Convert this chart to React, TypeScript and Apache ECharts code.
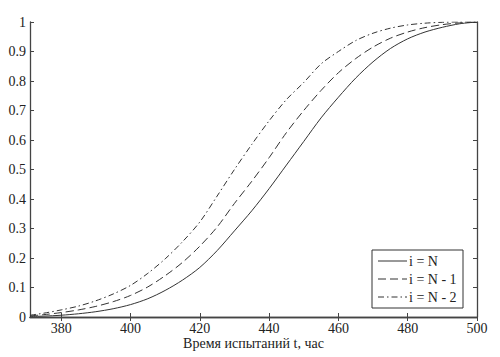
import React, { useEffect, useRef } from "react";
import * as echarts from "echarts";

const tValues = [371, 375, 380, 385, 390, 395, 400, 405, 410, 415, 420, 425, 430, 435, 440, 445, 450, 455, 460, 465, 470, 475, 480, 485, 490, 495, 500];
const seriesN = [0.002, 0.003, 0.006, 0.011, 0.018, 0.028, 0.042, 0.062, 0.09, 0.125, 0.168, 0.225, 0.292, 0.36, 0.435, 0.515, 0.595, 0.675, 0.745, 0.81, 0.865, 0.91, 0.943, 0.966, 0.982, 0.994, 1.0];
const seriesN1 = [0.004, 0.008, 0.015, 0.024, 0.036, 0.052, 0.073, 0.102, 0.14, 0.185, 0.24, 0.305, 0.385, 0.46, 0.54, 0.625, 0.7, 0.768, 0.828, 0.876, 0.915, 0.945, 0.966, 0.981, 0.991, 0.997, 1.0];
const seriesN2 = [0.006, 0.013, 0.024, 0.037, 0.055, 0.078, 0.107, 0.148, 0.197, 0.255, 0.322, 0.41, 0.5, 0.585, 0.665, 0.737, 0.795, 0.858, 0.9, 0.937, 0.962, 0.979, 0.99, 0.996, 0.999, 1.0, 1.0];
const seriesNames = ["i = N", "i = N - 1", "i = N - 2"];
const xTicks = [380, 400, 420, 440, 460, 480, 500];
const xTitle = "Время испытаний t, час";

const FONT = "'Liberation Serif', 'Times New Roman', serif";
const DASHES: (number[] | null)[] = [null, [8, 4], [6, 3, 1.5, 3]];

export default function App() {
  const ref = useRef<HTMLDivElement>(null);
  useEffect(() => {
    if (!ref.current) return;
    const chart = echarts.init(ref.current, null, { renderer: "svg" });
    const pairs = (arr: number[]) => tValues.map((t, i) => [t, arr[i]]);
    const axisLine = { show: true, lineStyle: { color: "#444", width: 1.3 } };
    const tick = { show: true, inside: true, length: 4, lineStyle: { color: "#444", width: 1 } };
    const lineColor = "#333";
    const labelStyle = { fontFamily: FONT, fontSize: 14, color: "#222" };

    const legendEls: any[] = [
      {
        type: "rect",
        shape: { x: 372, y: 250, width: 91, height: 58 },
        style: { fill: "#fff", stroke: "#333", lineWidth: 1 },
        z: 100,
      },
    ];
    seriesNames.forEach((name, i) => {
      const y = 261 + i * 18;
      legendEls.push({
        type: "line",
        shape: { x1: 378, y1: y, x2: 407, y2: y },
        style: { stroke: lineColor, lineWidth: 1, lineDash: DASHES[i] || undefined },
        z: 101,
      });
      legendEls.push({
        type: "text",
        x: 409,
        y: y,
        style: { text: name, font: `14px ${FONT}`, fill: "#222", verticalAlign: "middle", align: "left" },
        z: 101,
      });
    });

    chart.setOption({
      animation: false,
      backgroundColor: "#fff",
      textStyle: { fontFamily: FONT, fontSize: 14 },
      grid: { left: 30, top: 22, right: 23, bottom: 40, containLabel: false, outerBoundsMode: "none" },
      legend: { show: false },
      xAxis: [
        {
          type: "value",
          min: 371,
          max: 500,
          position: "bottom",
          axisLine,
          axisTick: { ...tick, customValues: xTicks },
          axisLabel: { customValues: xTicks, ...labelStyle, margin: 4 },
          splitLine: { show: false },
          name: xTitle,
          nameLocation: "middle",
          nameGap: 19,
          nameMoveOverlap: false,
          nameTextStyle: { ...labelStyle },
        },
        {
          type: "value",
          min: 371,
          max: 500,
          position: "top",
          axisLine,
          axisTick: { ...tick, customValues: xTicks },
          axisLabel: { show: false },
          splitLine: { show: false },
        },
      ],
      yAxis: [
        {
          type: "value",
          min: 0,
          max: 1,
          interval: 0.1,
          position: "left",
          axisLine,
          axisTick: tick,
          axisLabel: { ...labelStyle, margin: 4 },
          splitLine: { show: false },
        },
        {
          type: "value",
          min: 0,
          max: 1,
          interval: 0.1,
          position: "right",
          axisLine,
          axisTick: tick,
          axisLabel: { show: false },
          splitLine: { show: false },
        },
      ],
      series: seriesNames.map((name, i) => ({
        name,
        type: "line",
        data: pairs([seriesN, seriesN1, seriesN2][i]),
        smooth: 0.3,
        showSymbol: false,
        symbol: "none",
        lineStyle: { color: lineColor, width: 1, type: DASHES[i] || "solid" },
        itemStyle: { color: lineColor },
      })),
      graphic: legendEls,
    });
    return () => chart.dispose();
  }, []);
  return <div ref={ref} style={{ width: 500, height: 357, position: "absolute", left: 0, top: 0 }} />;
}
